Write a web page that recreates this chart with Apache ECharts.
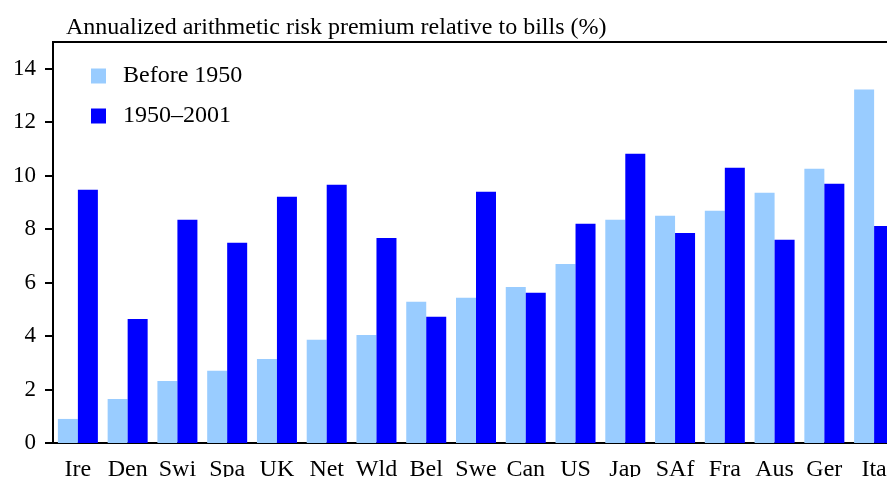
<!DOCTYPE html>
<html>
<head>
<meta charset="utf-8">
<script src="https://cdn.jsdelivr.net/npm/echarts@6/dist/echarts.min.js"></script>
<style>
  html, body { margin: 0; padding: 0; background: #fff; }
  #premium { width: 887px; height: 477px; }
</style>
</head>
<body>
<div id="premium"></div>
<script>
// countries, in the order shown
var countries = ['Ire', 'Den', 'Swi', 'Spa', 'UK', 'Net', 'Wld', 'Bel', 'Swe', 'Can', 'US', 'Jap', 'SAf', 'Fra', 'Aus', 'Ger', 'Ita'];
// annualized arithmetic risk premium relative to bills (%)
var before1950 = [0.90, 1.65, 2.32, 2.70, 3.14, 3.86, 4.04, 5.28, 5.43, 5.84, 6.70, 8.35, 8.50, 8.69, 9.36, 10.26, 13.22];
var after1950  = [9.47, 4.64, 8.35, 7.49, 9.21, 9.66, 7.67, 4.72, 9.40, 5.62, 8.20, 10.82, 7.86, 10.30, 7.60, 9.70, 8.12];
var yTicks = [0, 2, 4, 6, 8, 10, 12, 14];

var serif = 'Liberation Serif';
var myChart = echarts.init(document.getElementById('premium'));
var option = {
    animation: false,
    textStyle: { fontFamily: serif },
    title: {
        text: 'Annualized arithmetic risk premium relative to bills (%)',
        left: 61,
        top: 11,
        textStyle: { fontFamily: serif, fontSize: 24, fontWeight: 'normal', color: '#000' }
    },
    legend: {
        orient: 'vertical',
        left: 91,
        top: 64,
        padding: 0,
        itemWidth: 15,
        itemHeight: 15,
        itemGap: 16,
        icon: 'rect',
        data: ['Before 1950', '1950\u20132001'],
        textStyle: { fontFamily: serif, fontSize: 24, color: '#000', padding: [0, 0, 0, 12] }
    },
    grid: {
        left: 53,
        top: 42,
        bottom: 34,
        width: 846,
        outerBoundsMode: 'none',
        containLabel: false,
        show: true,
        borderColor: '#000',
        borderWidth: 2,
        backgroundColor: 'transparent'
    },
    xAxis: {
        type: 'category',
        data: countries,
        axisTick: { show: false },
        axisLine: { lineStyle: { color: '#000', width: 2 } },
        axisLabel: { interval: 0, color: '#000', fontFamily: serif, fontSize: 24, margin: 15 }
    },
    yAxis: {
        type: 'value',
        min: 0,
        max: 15,
        splitLine: { show: false },
        axisLine: { show: true, lineStyle: { color: '#000', width: 2 } },
        axisTick: { show: true, inside: false, length: 8, customValues: yTicks, lineStyle: { color: '#000', width: 2 } },
        axisLabel: { color: '#000', fontFamily: serif, fontSize: 23, margin: 17, customValues: yTicks }
    },
    series: [
        {
            name: 'Before 1950',
            type: 'bar',
            barWidth: 20,
            barGap: 0,
            itemStyle: { color: '#99CCFF' },
            data: before1950
        },
        {
            name: '1950\u20132001',
            type: 'bar',
            barWidth: 20,
            barGap: 0,
            itemStyle: { color: '#0000FF' },
            data: after1950
        }
    ]
};
myChart.setOption(option);
</script>
</body>
</html>
